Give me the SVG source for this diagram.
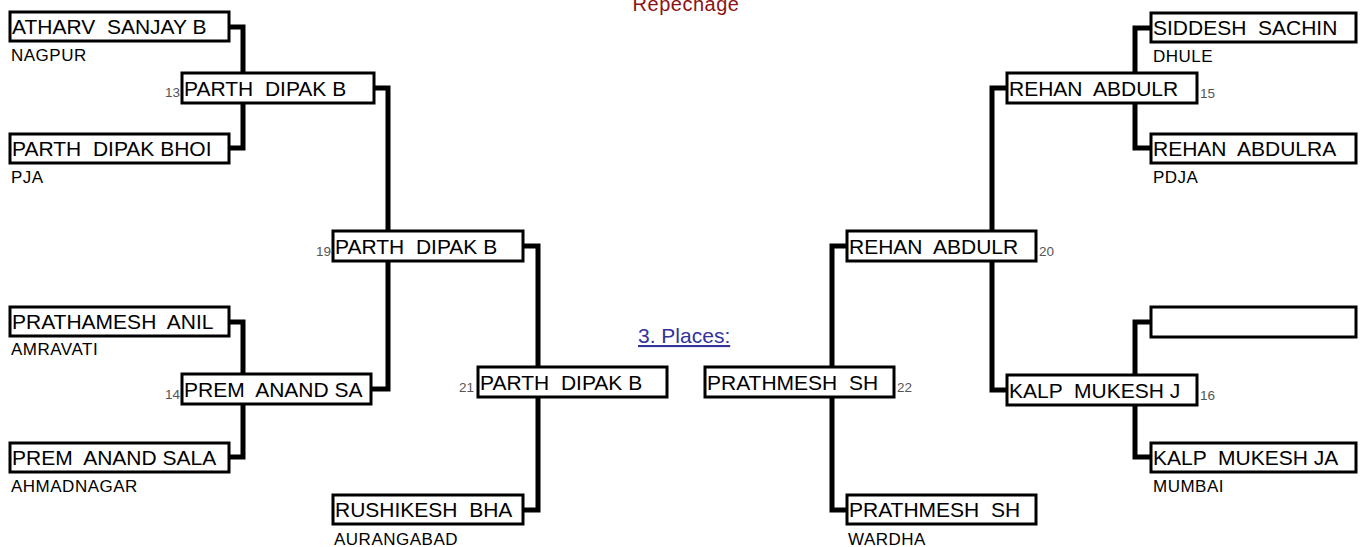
<svg xmlns="http://www.w3.org/2000/svg" width="1363" height="547" viewBox="0 0 1363 547">
<style>
.bx{fill:#fff;stroke:#000;stroke-width:3}
.nm{font-family:"Liberation Sans",Arial,sans-serif;font-size:21px;fill:#000;white-space:pre}
.ct{font-family:"Liberation Sans",Arial,sans-serif;font-size:17px;letter-spacing:0.5px;fill:#000}
.no{font-family:"Liberation Sans",Arial,sans-serif;font-size:13.5px;fill:#555}
.cn{fill:none;stroke:#000;stroke-width:5;stroke-linejoin:miter}
</style>
<rect width="1363" height="547" fill="#fff"/>
<text x="686" y="11" text-anchor="middle" style="font-family:'Liberation Sans',Arial,sans-serif;font-size:20px;letter-spacing:0.5px;fill:#8b1313">Repechage</text>
<text x="638" y="343" style="font-family:'Liberation Sans',Arial,sans-serif;font-size:21px;fill:#333399;text-decoration:underline">3. Places:</text>
<g id="connectors">
<polyline class="cn" points="229,27 243,27 243,148 229,148"/>
<polyline class="cn" points="229,322 243,322 243,457 229,457"/>
<polyline class="cn" points="374,88 388,88 388,389 371,389"/>
<polyline class="cn" points="523,246 538,246 538,510 523,510"/>
<polyline class="cn" points="1151,28 1135,28 1135,148 1151,148"/>
<polyline class="cn" points="1151,322 1135,322 1135,457 1151,457"/>
<polyline class="cn" points="1007,88 992,88 992,390 1007,390"/>
<polyline class="cn" points="847,246 832,246 832,510 847,510"/>
</g>
<g id="n-atharv"><rect class="bx" x="10" y="12" width="219" height="29"/><text class="nm" x="12" y="34">ATHARV  SANJAY B</text><text class="ct" x="11" y="61">NAGPUR</text></g>
<g id="n-parth-bhoi"><rect class="bx" x="10" y="134" width="219" height="29"/><text class="nm" x="12" y="156">PARTH  DIPAK BHOI</text><text class="ct" x="11" y="183">PJA</text></g>
<g id="n-13"><rect class="bx" x="182" y="73" width="192" height="30"/><text class="nm" x="184" y="96">PARTH  DIPAK B</text><text class="no" x="165" y="97">13</text></g>
<g id="n-prathamesh"><rect class="bx" x="10" y="307" width="219" height="29"/><text class="nm" x="12" y="329">PRATHAMESH  ANIL</text><text class="ct" x="11" y="355">AMRAVATI</text></g>
<g id="n-prem-sala"><rect class="bx" x="10" y="443" width="219" height="29"/><text class="nm" x="12" y="465">PREM  ANAND SALA</text><text class="ct" x="11" y="492">AHMADNAGAR</text></g>
<g id="n-14"><rect class="bx" x="182" y="374" width="189" height="30"/><text class="nm" x="184" y="397">PREM  ANAND SA</text><text class="no" x="165" y="399">14</text></g>
<g id="n-19"><rect class="bx" x="333" y="231" width="190" height="30"/><text class="nm" x="335" y="254">PARTH  DIPAK B</text><text class="no" x="316" y="256">19</text></g>
<g id="n-rushikesh"><rect class="bx" x="333" y="495" width="190" height="29"/><text class="nm" x="335" y="517">RUSHIKESH  BHA</text><text class="ct" x="334" y="545">AURANGABAD</text></g>
<g id="n-21"><rect class="bx" x="478" y="367" width="189" height="30"/><text class="nm" x="480" y="390">PARTH  DIPAK B</text><text class="no" x="459" y="392">21</text></g>
<g id="n-22"><rect class="bx" x="705" y="367" width="189" height="30"/><text class="nm" x="707" y="390">PRATHMESH  SH</text><text class="no" x="897" y="392">22</text></g>
<g id="n-siddesh"><rect class="bx" x="1151" y="13" width="205" height="29"/><text class="nm" x="1153" y="35">SIDDESH  SACHIN</text><text class="ct" x="1153" y="62">DHULE</text></g>
<g id="n-rehan-abdulra"><rect class="bx" x="1151" y="134" width="205" height="29"/><text class="nm" x="1153" y="156">REHAN  ABDULRA</text><text class="ct" x="1153" y="183">PDJA</text></g>
<g id="n-15"><rect class="bx" x="1007" y="73" width="190" height="30"/><text class="nm" x="1009" y="96">REHAN  ABDULR</text><text class="no" x="1200" y="98">15</text></g>
<g id="n-empty"><rect class="bx" x="1151" y="307" width="205" height="30"/></g>
<g id="n-kalp-ja"><rect class="bx" x="1151" y="443" width="205" height="29"/><text class="nm" x="1153" y="465">KALP  MUKESH JA</text><text class="ct" x="1153" y="492">MUMBAI</text></g>
<g id="n-16"><rect class="bx" x="1007" y="375" width="190" height="30"/><text class="nm" x="1009" y="398">KALP  MUKESH J</text><text class="no" x="1200" y="400">16</text></g>
<g id="n-20"><rect class="bx" x="847" y="231" width="189" height="30"/><text class="nm" x="849" y="254">REHAN  ABDULR</text><text class="no" x="1039" y="256">20</text></g>
<g id="n-prathmesh-lower"><rect class="bx" x="847" y="495" width="189" height="29"/><text class="nm" x="849" y="517">PRATHMESH  SH</text><text class="ct" x="848" y="545">WARDHA</text></g>
</svg>
